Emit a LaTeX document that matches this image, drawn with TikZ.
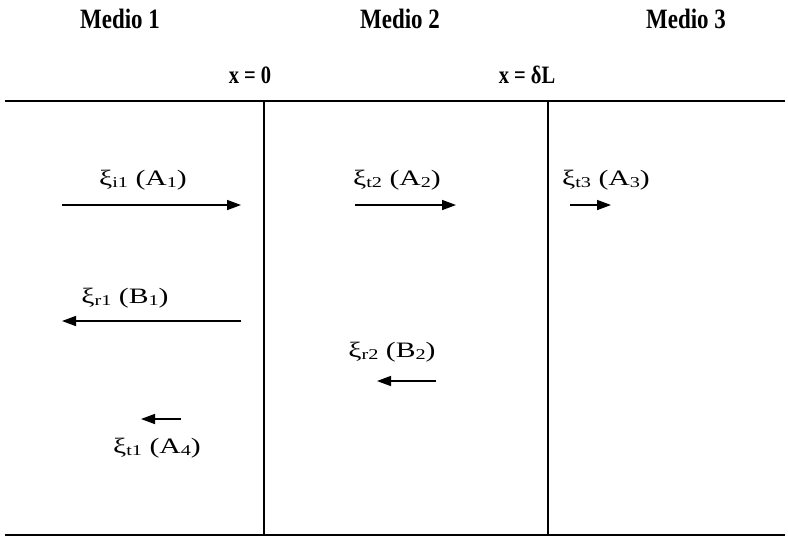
\documentclass[tikz,border=0pt]{standalone}
\usepackage{fontspec}
\setmainfont{Liberation Serif}
\usetikzlibrary{arrows.meta}
\newcommand{\hdtxt}[2]{\scalebox{0.82}[1]{\fontsize{#1}{#1}\selectfont\bfseries #2}}
\newcommand{\sbx}[1]{\raisebox{-0.25ex}{\fontsize{15}{15}\selectfont #1}}
\newcommand{\lbtxt}[1]{\scalebox{1.35}[1]{\fontsize{22}{22}\selectfont #1}}
\begin{document}
\begin{tikzpicture}[x=1pt,y=-1pt,
  hdr/.style={inner sep=0pt},
  lbl/.style={inner sep=0pt},
  wall/.style={line width=1.9pt},
  wave/.style={line width=1.5pt, -{Triangle[length=14pt,width=10pt]}}]
\useasboundingbox (0,0) rectangle (788,539);
% headers
\node[hdr] (m1) at (120,19) {\hdtxt{28}{Medio 1}};
\node[hdr] (m2) at (400,19) {\hdtxt{28}{Medio 2}};
\node[hdr] (m3) at (686,19) {\hdtxt{28}{Medio 3}};
\node[hdr] (x0) at (250,75) {\hdtxt{25}{x = 0}};
\node[hdr] (xL) at (527,75) {\hdtxt{25}{x = δL}};
% walls
\coordinate (tl) at (5,101);
\coordinate (tr) at (785,101);
\coordinate (bl) at (5,535);
\coordinate (br) at (785,535);
\coordinate (w1t) at (264,101);
\coordinate (w1b) at (264,535);
\coordinate (w2t) at (548,101);
\coordinate (w2b) at (548,535);
\draw[wall] (tl) -- (tr);
\draw[wall] (bl) -- (br);
\draw[wall] (w1t) -- (w1b);
\draw[wall] (w2t) -- (w2b);
% medio 1
\node[lbl] (li1) at (143,180) {\lbtxt{ξ\sbx{i1} (A\sbx{1})}};
\coordinate (ai1s) at (62,205); \coordinate (ai1e) at (241,205);
\draw[wave] (ai1s) -- (ai1e);
\node[lbl] (lr1) at (125,298) {\lbtxt{ξ\sbx{r1} (B\sbx{1})}};
\coordinate (ar1s) at (241,321); \coordinate (ar1e) at (62,321);
\draw[wave] (ar1s) -- (ar1e);
\coordinate (at1s) at (181,419); \coordinate (at1e) at (141,419);
\draw[wave] (at1s) -- (at1e);
\node[lbl] (lt1) at (157,448) {\lbtxt{ξ\sbx{t1} (A\sbx{4})}};
% medio 2
\node[lbl] (lt2) at (397,180) {\lbtxt{ξ\sbx{t2} (A\sbx{2})}};
\coordinate (at2s) at (355,205); \coordinate (at2e) at (456,205);
\draw[wave] (at2s) -- (at2e);
\node[lbl] (lr2) at (392,352) {\lbtxt{ξ\sbx{r2} (B\sbx{2})}};
\coordinate (ar2s) at (436,381); \coordinate (ar2e) at (377,381);
\draw[wave] (ar2s) -- (ar2e);
% medio 3
\node[lbl] (lt3) at (606,180) {\lbtxt{ξ\sbx{t3} (A\sbx{3})}};
\coordinate (at3s) at (570,205); \coordinate (at3e) at (611,205);
\draw[wave] (at3s) -- (at3e);
\end{tikzpicture}
\end{document}
